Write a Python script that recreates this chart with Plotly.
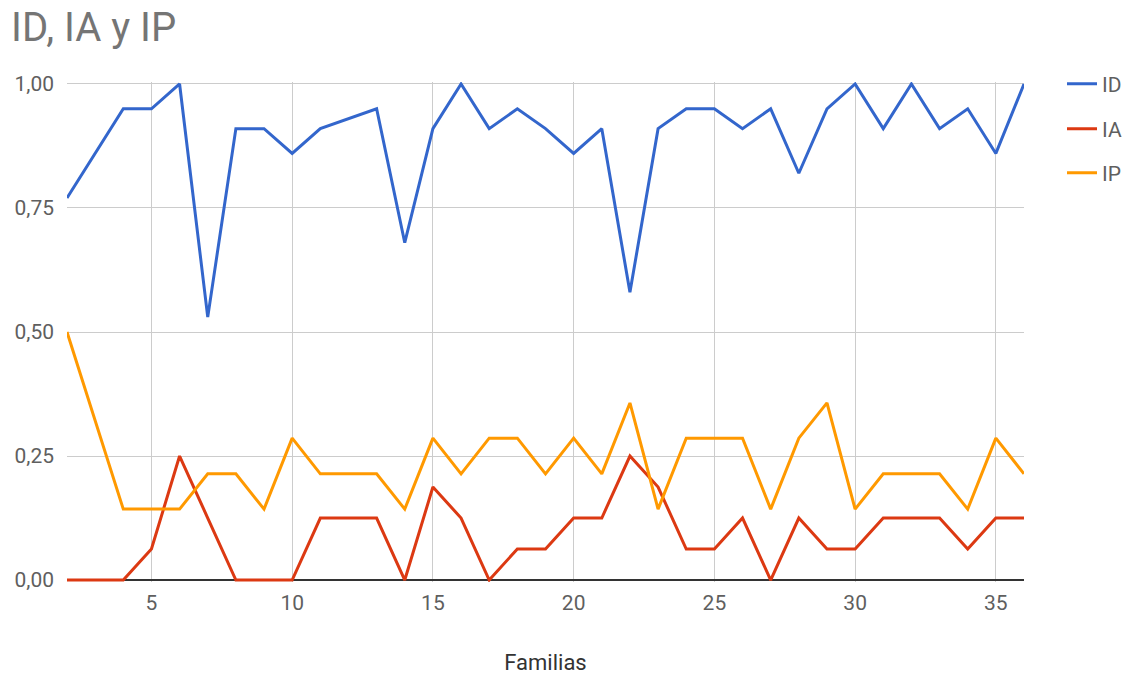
import plotly.graph_objects as go

familias = list(range(2, 37))
id_vals = [0.77, 0.86, 0.95, 0.95, 1.00, 0.53, 0.91, 0.91, 0.86, 0.91, 0.93, 0.95,
           0.68, 0.91, 1.00, 0.91, 0.95, 0.91, 0.86, 0.91, 0.58, 0.91, 0.95, 0.95,
           0.91, 0.95, 0.82, 0.95, 1.00, 0.91, 1.00, 0.91, 0.95, 0.86, 1.00]
ia_vals = [0, 0, 0, 0.0625, 0.25, 0.125, 0, 0, 0, 0.125, 0.125, 0.125,
           0, 0.1875, 0.125, 0, 0.0625, 0.0625, 0.125, 0.125, 0.25, 0.1875, 0.0625, 0.0625,
           0.125, 0, 0.125, 0.0625, 0.0625, 0.125, 0.125, 0.125, 0.0625, 0.125, 0.125]
ip_vals = [0.5, 0.32, 0.143, 0.143, 0.143, 0.214, 0.214, 0.143, 0.286, 0.214, 0.214, 0.214,
           0.143, 0.286, 0.214, 0.286, 0.286, 0.214, 0.286, 0.214, 0.357, 0.143, 0.286, 0.286,
           0.286, 0.143, 0.286, 0.357, 0.143, 0.214, 0.214, 0.214, 0.143, 0.286, 0.214]

series = [("ID", id_vals, "#3366cc"), ("IA", ia_vals, "#dc3912"), ("IP", ip_vals, "#ff9900")]
y_tick_vals = [0, 0.25, 0.5, 0.75, 1.0]

FONT = "Roboto"
TXT = "#5f5f5f"

fig = go.Figure()
legend_names = ["legend", "legend2", "legend3"]
for (name, vals, color), lg in zip(series, legend_names):
    fig.add_trace(go.Scatter(x=familias, y=vals, mode="lines", name=name,
                             line=dict(color=color, width=3), legend=lg))

pad = 0.004
plot_h = 496 * (1 + 2 * pad)
top = 84 - 496 * pad
bottom = 675 - top - plot_h

legend_y_px = [84, 129, 173]
legend_common = dict(font=dict(family=FONT, size=21, color=TXT), bgcolor="rgba(0,0,0,0)",
                     xanchor="left", yanchor="middle", xref="container", yref="container",
                     x=1062 / 1132)
layout_legends = {}
for lg, ypx in zip(legend_names, legend_y_px):
    layout_legends[lg] = dict(legend_common, y=1 - ypx / 675)

fig.update_layout(
    width=1132, height=675,
    margin=dict(l=67, r=1132 - 1024, t=top, b=bottom, autoexpand=False),
    paper_bgcolor="white", plot_bgcolor="white",
    separators=",.",
    font=dict(family=FONT, color=TXT, size=21),
    title=dict(text="ID, IA y IP", x=11 / 1132, xanchor="left", xref="container",
               y=1 - 27 / 675, yanchor="middle", yref="container",
               font=dict(family=FONT, size=40, color="#757575")),
    showlegend=True,
    xaxis=dict(range=[2, 36], tick0=0, dtick=5, showgrid=True, gridcolor="#cccccc", gridwidth=1,
               zeroline=False, showline=False, ticks="", ticklabelstandoff=6, automargin=False,
               tickfont=dict(family=FONT, size=21, color=TXT),
               title=dict(text="Familias", standoff=40, font=dict(family=FONT, size=22, color="#333333"))),
    yaxis=dict(range=[-pad, 1 + pad], tickvals=y_tick_vals, tickformat=".2f", showgrid=True,
               gridcolor="#cccccc", gridwidth=1, zeroline=True, zerolinecolor="#333333",
               zerolinewidth=1.5, showline=False, ticks="", ticklabelstandoff=12, automargin=False,
               tickfont=dict(family=FONT, size=21, color=TXT)),
    **layout_legends,
)

fig.write_html("out.html")
